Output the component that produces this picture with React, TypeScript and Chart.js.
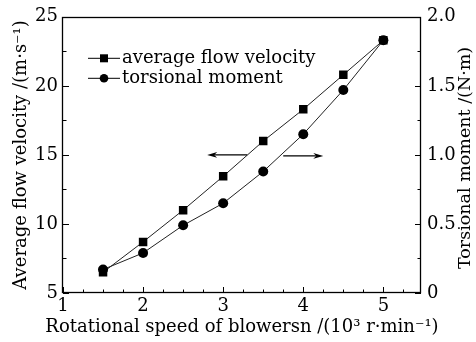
import React, { useEffect, useRef } from "react";
import { Chart, registerables } from "chart.js";

Chart.register(...registerables);

// ---- data ----
const rotationalSpeeds = [1.5, 2, 2.5, 3, 3.5, 4, 4.5, 5];
const averageFlowVelocity = [6.5, 8.7, 11.0, 13.45, 16.0, 18.3, 20.8, 23.3];
const torsionalMoment = [0.17, 0.29, 0.49, 0.65, 0.88, 1.15, 1.47, 1.83];

const xTickValues = [1, 2, 3, 4, 5];
const leftTickValues = [5, 10, 15, 20, 25];
const rightTickValues = [0, 0.5, 1.0, 1.5, 2.0];

const seriesLabels = ["average flow velocity", "torsional moment"];
const xTitle = "Rotational speed of blowersn /(10³ r·min⁻¹)";
const leftTitle = "Average flow velocity /(m·s⁻¹)";
const rightTitle = "Torsional moment /(N·m)";

// arrows: [fromX, toX, atLeftY]
const arrowLeft = [3.3, 2.8, 15];
const arrowRight = [3.75, 4.25, 15];

const FONT = "'DejaVu Serif', serif";
const FS = 18;

function drawArrow(ctx: CanvasRenderingContext2D, x1: number, y: number, x2: number) {
  const dir = Math.sign(x2 - x1);
  ctx.save();
  ctx.strokeStyle = "#000";
  ctx.fillStyle = "#000";
  ctx.lineWidth = 1.2;
  ctx.beginPath();
  ctx.moveTo(x1, y);
  ctx.lineTo(x2 - dir * 6, y);
  ctx.stroke();
  ctx.beginPath();
  ctx.moveTo(x2, y);
  ctx.lineTo(x2 - dir * 10, y - 2.8);
  ctx.lineTo(x2 - dir * 7, y);
  ctx.lineTo(x2 - dir * 10, y + 2.8);
  ctx.closePath();
  ctx.fill();
  ctx.restore();
}

const decorPlugin = {
  id: "decor",
  afterDraw(chart: any) {
    const ctx: CanvasRenderingContext2D = chart.ctx;
    const { left, right, top, bottom } = chart.chartArea;
    const xs = chart.scales.x;
    const yl = chart.scales.y;
    const yr = chart.scales.y1;
    ctx.save();
    ctx.strokeStyle = "#000";
    ctx.lineWidth = 1.3;
    ctx.strokeRect(Math.round(left) - 0.5, Math.round(top) + 0.5, Math.round(right - left), Math.round(bottom - top) - 1);

    ctx.lineWidth = 1;
    ctx.beginPath();
    // x ticks
    for (let v = xs.min; v <= xs.max + 1e-9; v += 0.25) {
      const major = Math.abs(v - Math.round(v)) < 1e-6;
      const px = Math.round(xs.getPixelForValue(v)) + 0.5;
      ctx.moveTo(px, bottom);
      ctx.lineTo(px, bottom - (major ? 6 : 3.5));
    }
    // left ticks
    for (let v = yl.min; v <= yl.max + 1e-9; v += 2.5) {
      const major = Math.abs(v / 5 - Math.round(v / 5)) < 1e-6;
      const py = Math.round(yl.getPixelForValue(v)) + 0.5;
      ctx.moveTo(left, py);
      ctx.lineTo(left + (major ? 6 : 3.5), py);
    }
    // right ticks
    for (let v = yr.min; v <= yr.max + 1e-9; v += 0.25) {
      const major = Math.abs(v / 0.5 - Math.round(v / 0.5)) < 1e-6;
      const py = Math.round(yr.getPixelForValue(v)) + 0.5;
      ctx.moveTo(right, py);
      ctx.lineTo(right - (major ? 6 : 3.5), py);
    }
    ctx.stroke();

    // arrows
    drawArrow(ctx, xs.getPixelForValue(arrowLeft[0]), yl.getPixelForValue(arrowLeft[2]), xs.getPixelForValue(arrowLeft[1]));
    drawArrow(ctx, xs.getPixelForValue(arrowRight[0]), yl.getPixelForValue(arrowRight[2]) + 1, xs.getPixelForValue(arrowRight[1]));

    // legend
    const lx0 = left + 25;
    const rows = [top + 41, top + 61];
    chart.data.datasets.forEach((ds: any, i: number) => {
      const y = rows[i];
      ctx.strokeStyle = "#000";
      ctx.lineWidth = 1;
      ctx.beginPath();
      ctx.moveTo(lx0, y + 0.5);
      ctx.lineTo(lx0 + 32, y + 0.5);
      ctx.stroke();
      ctx.fillStyle = "#000";
      const cx = lx0 + 16;
      if (ds.pointStyle === "rect") {
        ctx.fillRect(cx - 4, y - 3.5, 8, 8);
      } else {
        ctx.beginPath();
        ctx.arc(cx, y + 0.5, 4.3, 0, Math.PI * 2);
        ctx.fill();
      }
      ctx.font = `${FS}px ${FONT}`;
      ctx.textAlign = "left";
      ctx.textBaseline = "alphabetic";
      ctx.fillText(ds.label, lx0 + 34, y + 5);
    });

    ctx.fillStyle = "#000";
    // x title
    ctx.font = `${FS}px ${FONT}`;
    ctx.textAlign = "center";
    ctx.textBaseline = "middle";
    ctx.fillText(xTitle, 242, 327);

    // right title (reads bottom to top)
    ctx.save();
    ctx.translate(chart.width - 11, (top + bottom) / 2 + 3);
    ctx.rotate(-Math.PI / 2);
    ctx.font = `${FS - 0.5}px ${FONT}`;
    ctx.textAlign = "center";
    ctx.textBaseline = "middle";
    ctx.fillText(rightTitle, 0, 0);
    ctx.restore();

    ctx.restore();
  },
};

export default function App() {
  const ref = useRef<HTMLCanvasElement | null>(null);

  useEffect(() => {
    document.body.style.margin = "0";
    const canvas = ref.current;
    if (!canvas) return;
    const font = { family: FONT, size: FS };
    const chart = new Chart(canvas, {
      type: "line",
      data: {
        datasets: [
          {
            label: seriesLabels[0],
            data: rotationalSpeeds.map((x, i) => ({ x, y: averageFlowVelocity[i] })),
            yAxisID: "y",
            borderColor: "#222",
            borderWidth: 1,
            pointStyle: "rect",
            pointRadius: 6,
            pointBackgroundColor: "#000",
            pointBorderColor: "#000",
            pointBorderWidth: 0,
            order: 1,
          },
          {
            label: seriesLabels[1],
            data: rotationalSpeeds.map((x, i) => ({ x, y: torsionalMoment[i] })),
            yAxisID: "y1",
            borderColor: "#222",
            borderWidth: 1,
            pointStyle: "circle",
            pointRadius: 5,
            pointBackgroundColor: "#000",
            pointBorderColor: "#000",
            pointBorderWidth: 0,
            order: 0,
          },
        ],
      },
      options: {
        responsive: false,
        animation: false,
        devicePixelRatio: 1,
        layout: { padding: { top: 13, left: 0, right: 0, bottom: 0 } },
        plugins: { legend: { display: false }, tooltip: { enabled: false } },
        scales: {
          x: {
            type: "linear",
            min: 1,
            max: 5.47,
            afterFit: (s: any) => { s.height = 49; },
            afterBuildTicks: (s: any) => { s.ticks = xTickValues.map((v) => ({ value: v })); },
            grid: { display: false, drawTicks: false },
            border: { display: false },
            ticks: { color: "#000", font, padding: 3, maxRotation: 0, callback: (v: any) => String(v) },
          },
          y: {
            type: "linear",
            position: "left",
            min: 5,
            max: 25,
            afterFit: (s: any) => { s.width = 63; },
            afterBuildTicks: (s: any) => { s.ticks = leftTickValues.map((v) => ({ value: v })); },
            grid: { display: false, drawTicks: false },
            border: { display: false },
            ticks: { color: "#000", font, padding: 5, callback: (v: any) => String(v) },
            title: { display: true, text: leftTitle, color: "#000", font, padding: { top: 11, bottom: 0 } },
          },
          y1: {
            type: "linear",
            position: "right",
            min: 0,
            max: 2,
            afterFit: (s: any) => { s.width = 55; },
            afterBuildTicks: (s: any) => { s.ticks = rightTickValues.map((v) => ({ value: v })); },
            grid: { display: false, drawTicks: false },
            border: { display: false },
            ticks: { color: "#000", font, padding: 6, callback: (v: any) => (v === 0 ? "0" : Number(v).toFixed(1)) },
          },
        },
      },
      plugins: [decorPlugin],
    } as any);
    return () => chart.destroy();
  }, []);

  return (
    <div style={{ width: 476, height: 342 }}>
      <canvas ref={ref} width={476} height={342} />
    </div>
  );
}
